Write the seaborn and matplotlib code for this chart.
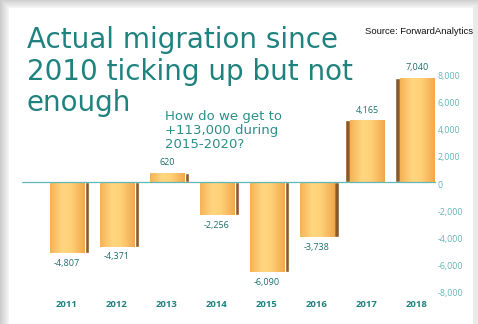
import numpy as np
import pandas as pd
import matplotlib
matplotlib.use("Agg")
import matplotlib.pyplot as plt
import seaborn as sns

# Net migration per year
years = ["2011", "2012", "2013", "2014", "2015", "2016", "2017", "2018"]
migration = [-4807, -4371, 620, -2256, -6090, -3738, 4165, 7040]
wall_ticks = [-8000, -6000, -4000, -2000, 0, 2000, 4000, 6000, 8000]

title_lines = ["Actual migration since", "2010 ticking up but not", "enough"]
question = "How do we get to\n+113,000 during\n2015-2020?"
source = "Source: ForwardAnalytics"

TEAL = "#1f827e"
LIGHT_TEAL = "#5fb8b6"
LABEL_TEAL = "#1d6f6c"

sns.set_theme(style="white")
plt.rcParams["font.family"] = ["DejaVu Sans"]

W, H = 478, 324
fig = plt.figure(figsize=(W / 100, H / 100), dpi=100)

# slide background with a soft grey shadow on the left and top edges
bg = fig.add_axes([0, 0, 1, 1])
xx = np.arange(W)[None, :]
yy = np.arange(H)[:, None]
shade = np.ones((H, W))
shade = np.minimum(shade, np.where(xx < 9, 0.80 + 0.02 * xx, 1.0))
shade = np.minimum(shade, np.where(yy < 8, 0.82 + 0.02 * yy, 1.0))
shade = np.minimum(shade, np.where(xx > W - 6, 0.92, 1.0))
bg.imshow(np.dstack([shade] * 3), aspect="auto", extent=[0, W, H, 0])
bg.set_axis_off()


def fx(px):
    return px / W


def fy(py):
    return 1 - py / H


px_per_1000 = 14.8
zero_px = 182
top_px, bot_px = 56, 296
left_px, right_px = 22, 436

ax = fig.add_axes([fx(left_px), fy(bot_px), fx(right_px - left_px), (bot_px - top_px) / H])
ax.set_facecolor("none")

df = pd.DataFrame({"year": years, "migration": migration})

# side faces of the bars, slightly offset to suggest depth
side_shift = [0.07 if i < 6 else -0.07 for i in range(len(years))]
ax.bar(np.arange(len(years)) + np.array(side_shift), migration, width=0.74,
       color="#8a5a2a", zorder=1)

sns.barplot(data=df, x="year", y="migration", color="#f7b758", width=0.70,
            saturation=1, ax=ax, zorder=2)

# horizontal shading on the front faces
grad_cols = np.array([
    [0.96, 0.70, 0.34],
    [1.00, 0.84, 0.50],
    [1.00, 0.82, 0.47],
    [0.95, 0.66, 0.30],
])
g = np.linspace(0, 1, 64)
stops = np.array([0.0, 0.35, 0.6, 1.0])
grad = np.stack([np.interp(g, stops, grad_cols[:, c]) for c in range(3)], axis=-1)[None, :, :]
for patch in ax.patches:
    if patch.get_zorder() < 2:
        continue
    x0, y0 = patch.get_x(), patch.get_y()
    w, h = patch.get_width(), patch.get_height()
    im = ax.imshow(grad, extent=[x0, x0 + w, min(y0, y0 + h), max(y0, y0 + h)],
                   aspect="auto", zorder=3, interpolation="bilinear")
    im.set_clip_path(patch)

ax.set_xlim(-0.9, 7.38)
ax.set_ylim(-(bot_px - zero_px) / px_per_1000 * 1000, (zero_px - top_px) / px_per_1000 * 1000)
ax.axhline(0, color=LIGHT_TEAL, lw=0.9, zorder=4)

for i, v in enumerate(migration):
    off = 10 if v > 0 else -10
    ax.annotate(f"{v:,}", (i, v), xytext=(0, off), textcoords="offset pixels",
                ha="center", va="center", fontsize=6.5, color=LABEL_TEAL,
                family=["Open Sans", "DejaVu Sans"], zorder=5)

ax.set_xlabel("")
ax.set_ylabel("")
ax.set_yticks([])
ax.tick_params(axis="x", length=0, pad=3, labelsize=6.8, labelcolor=TEAL)
for t in ax.get_xticklabels():
    t.set_fontweight("bold")
    t.set_family(["Open Sans", "DejaVu Sans"])
for s in ax.spines.values():
    s.set_visible(False)

# value axis drawn on the back wall, on the right
wall_px = 13.6
wall_zero = 184
ax2 = ax.twinx()
ax2.set_ylim(-(bot_px - wall_zero) / wall_px * 1000, (wall_zero - top_px) / wall_px * 1000)
ax2.set_yticks(wall_ticks)
ax2.set_yticklabels([f"{t:,}" for t in wall_ticks])
ax2.tick_params(axis="y", length=0, pad=1, labelsize=6.3, labelcolor=LIGHT_TEAL)
for t in ax2.get_yticklabels():
    t.set_family(["Open Sans", "DejaVu Sans"])
for s in ax2.spines.values():
    s.set_visible(False)
ax2.grid(False)

# headline, one line at a time
for line, base in zip(title_lines, [48, 80, 111]):
    fig.text(fx(27), fy(base), line, ha="left", va="baseline", fontsize=20, color=TEAL)
fig.text(fx(165), fy(110), question, ha="left", va="top", fontsize=9.5, color="#2a8f8a",
         linespacing=1.12)
fig.text(fx(365), fy(31), source, ha="left", va="center", fontsize=6.8, color="#111111",
         family=["Liberation Sans Narrow", "Liberation Sans", "DejaVu Sans"])

fig.savefig("out.png", dpi=100)
